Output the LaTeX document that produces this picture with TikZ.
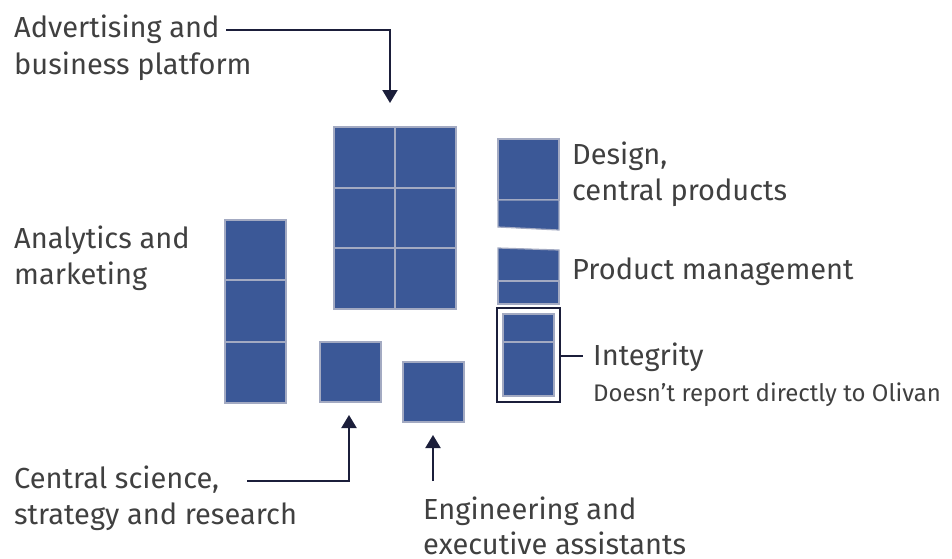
\documentclass[tikz,border=0pt]{standalone}
\usepackage{fontspec}
\setmainfont{Fira Sans}
\usetikzlibrary{arrows.meta}
\definecolor{boxblue}{HTML}{3B5897}
\definecolor{gridline}{HTML}{A3AAC2}
\definecolor{ink}{HTML}{1B1E3A}
\definecolor{txt}{HTML}{404040}
\begin{document}
\begin{tikzpicture}[x=1pt,y=-1pt,
  cell/.style={fill=boxblue,draw=gridline,line width=1.2pt},
  lbl/.style={anchor=base west,inner sep=0pt,text=txt,font=\fontsize{29}{35}\selectfont},
  sublbl/.style={anchor=base west,inner sep=0pt,text=txt,font=\fontsize{24}{28}\selectfont},
  conn/.style={draw=ink,line width=2pt},
  arr/.style={conn,-{Triangle[width=15pt,length=13pt]}}]
\useasboundingbox (0,0) rectangle (952,558);
% big grid
\foreach \c/\xa/\xb in {0/334/395,1/395/456}{
  \foreach \r/\ya/\yb in {0/127/188,1/188/248,2/248/309}{
    \path[cell] (\xa,\ya) rectangle (\xb,\yb);
  }}
% left column
\path[cell] (225,220) rectangle (286,280);
\path[cell] (225,280) rectangle (286,342);
\path[cell] (225,342) rectangle (286,403);
% small squares
\path[cell] (320,342) rectangle (381,402);
\path[cell] (403,362) rectangle (464,422);
% design
\path[cell] (498,139) -- (559,139) -- (559,200) -- (498,200) -- cycle;
\path[cell] (498,200) -- (559,200) -- (559,230) -- (498,227) -- cycle;
% product management
\path[cell] (498,248) -- (559,250) -- (559,281) -- (498,281) -- cycle;
\path[cell] (498,281) -- (559,281) -- (559,304) -- (498,304) -- cycle;
% integrity
\node[draw=ink,line width=2pt,minimum width=63pt,minimum height=94pt,inner sep=0pt] (integ) at (528.5,355) {};
\path[cell] (503,314) rectangle (554,342);
\path[cell] (503,342) rectangle (554,396);
% texts
\node[lbl] (adv1) at (14,37) {Advertising and};
\node[lbl] (adv2) at (14,74) {business platform};
\node[lbl] (des1) at (572,164) {Design,};
\node[lbl] (des2) at (572,200) {central products};
\node[lbl] (pm) at (572,279) {Product management};
\node[lbl] (ana1) at (14,248) {Analytics and};
\node[lbl] (ana2) at (14,284) {marketing};
\node[lbl] (int) at (593,365) {Integrity};
\node[sublbl] (intsub) at (593,401) {Doesn’t report directly to Olivan};
\node[lbl] (cs1) at (14,488) {Central science,};
\node[lbl] (cs2) at (14,524) {strategy and research};
\node[lbl] (eng1) at (423,519) {Engineering and};
\node[lbl,text depth=0pt] (eng2) at (423,554) {executive assistants};
% connectors
\coordinate (a1) at (226,30);
\coordinate (a2) at (390,30);
\coordinate (a3) at (390,103);
\draw[arr] (a1) -- (a2) -- (a3);
\coordinate (b1) at (247,481);
\coordinate (b2) at (349,481);
\coordinate (b3) at (349,415);
\draw[arr] (b1) -- (b2) -- (b3);
\coordinate (c1) at (433,481);
\coordinate (c2) at (433,435);
\draw[arr] (c1) -- (c2);
\coordinate (d1) at (583,356);
\draw[conn] (integ.east |- d1) -- (d1);
\end{tikzpicture}
\end{document}
